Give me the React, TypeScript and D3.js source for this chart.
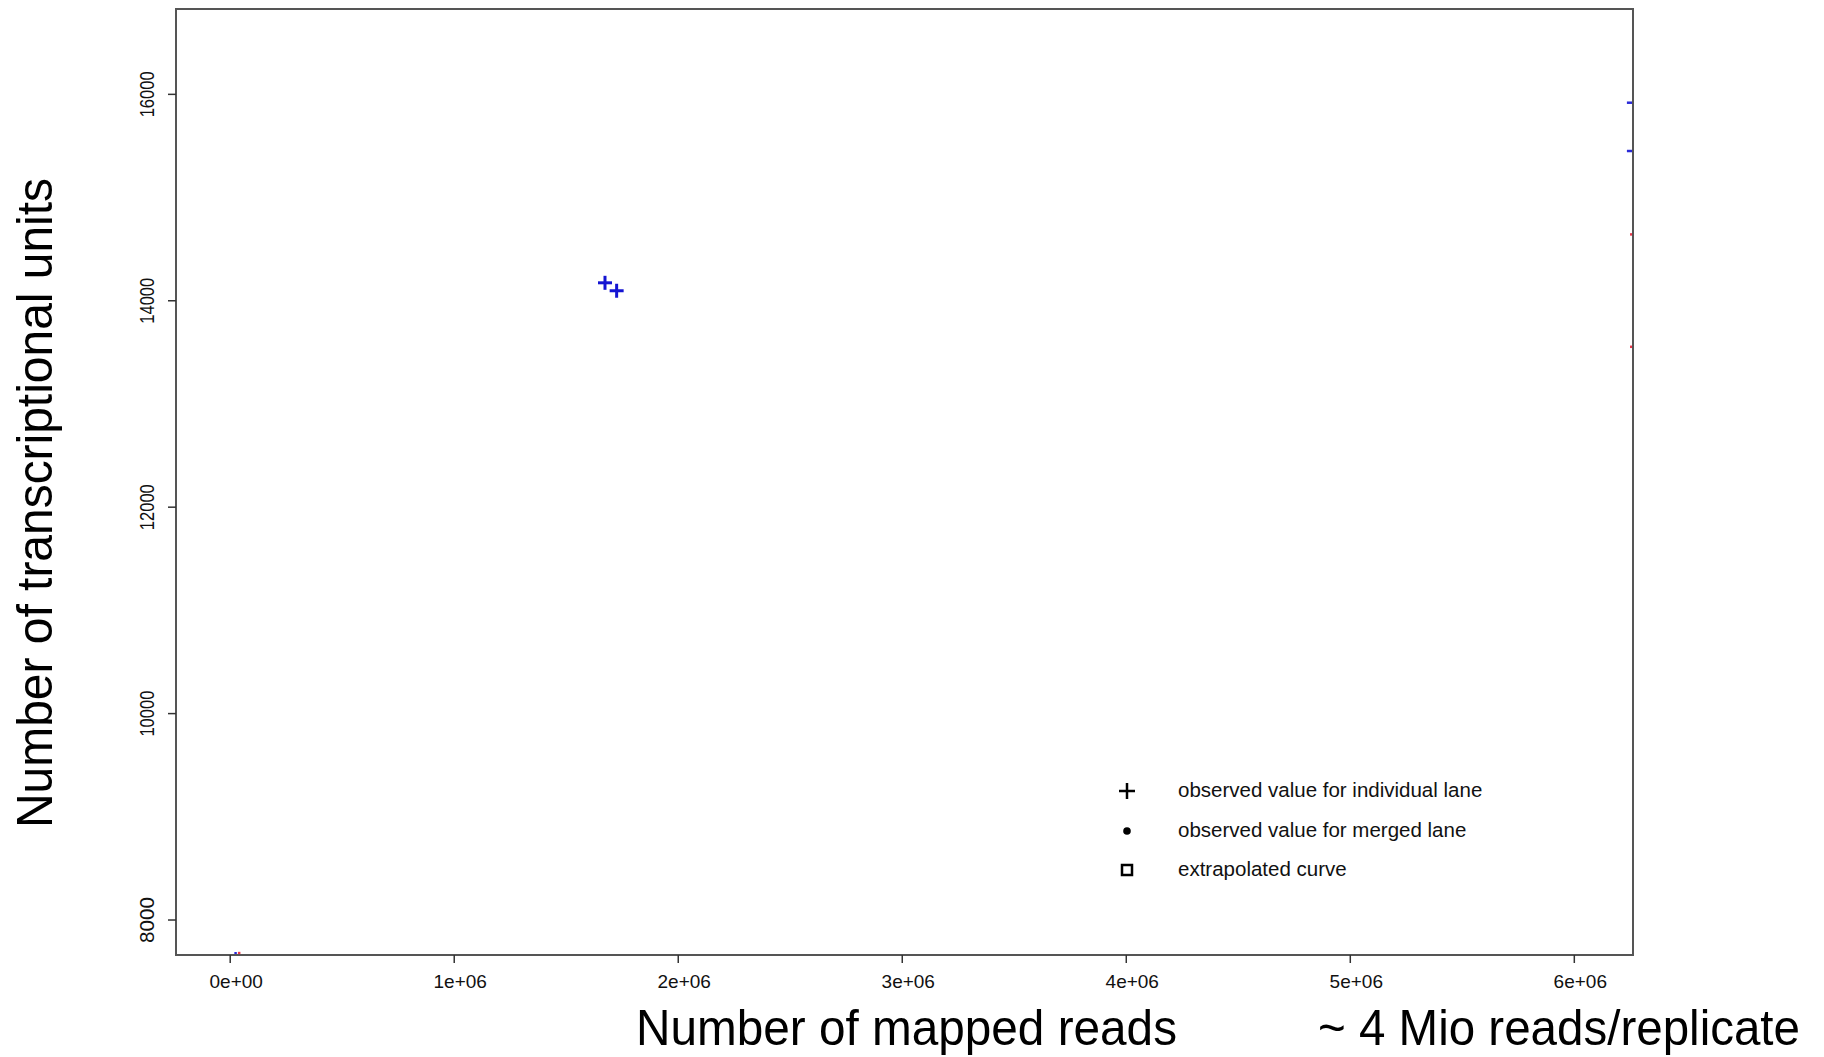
import React from 'react';
import * as d3 from 'd3';

// tick values
const xTicks = [0, 1e6, 2e6, 3e6, 4e6, 5e6, 6e6];
const xTickLabels = ['0e+00', '1e+06', '2e+06', '3e+06', '4e+06', '5e+06', '6e+06'];
const yTicks = [8000, 10000, 12000, 14000, 16000];

// observed values for individual lanes (reads, units)
const laneReads = [1673000, 1725000];
const laneUnits = [14174, 14097];

// points sitting just outside the plot region (clipped, only an arm shows)
const edgeBlueReads = [6266000, 6266000, 24000];
const edgeBlueUnits = [15919, 15451, 7622];
const edgeRedReads = [6280000, 6280000, 40000];
const edgeRedUnits = [14643, 13554, 7624];

const legendItems = [
  'observed value for individual lane',
  'observed value for merged lane',
  'extrapolated curve',
];

const W = 1824;
const H = 1057;
const plot = { left: 176, top: 9, right: 1633, bottom: 955 };

const App = () => {
  const x = d3.scaleLinear().domain([-242000, 6262000]).range([plot.left, plot.right]);
  const y = d3.scaleLinear().domain([7661, 16827]).range([plot.bottom, plot.top]);

  const font = "'Liberation Sans', Arial, Helvetica, sans-serif";

  const plus = (cx: number, cy: number, s: number, color: string, w: number, key: string) => (
    <g key={key} stroke={color} strokeWidth={w}>
      <line x1={cx - s} x2={cx + s} y1={cy} y2={cy} />
      <line x1={cx} x2={cx} y1={cy - s} y2={cy + s} />
    </g>
  );

  const legendX = 1127;
  const legendY = [791, 831, 870];

  return (
    <svg
      width={W}
      height={H}
      style={{ position: 'absolute', left: 0, top: 0, background: '#fff' }}
      fontFamily={font}
    >
      <defs>
        <clipPath id="plotclip">
          <rect x={plot.left} y={plot.top} width={plot.right - plot.left} height={plot.bottom - plot.top} />
        </clipPath>
      </defs>
      <rect width={W} height={H} fill="#fff" />

      {/* data */}
      <g clipPath="url(#plotclip)">
        {laneReads.map((r, i) => plus(x(r), y(laneUnits[i]), 7, '#1414d2', 3, 'lane' + i))}
        {edgeBlueReads.map((r, i) => plus(x(r), y(edgeBlueUnits[i]), 7, '#2a2ad8', 2.5, 'eb' + i))}
        {edgeRedReads.map((r, i) => plus(x(r), y(edgeRedUnits[i]), 7, '#e8364a', 2.5, 'er' + i))}
      </g>

      {/* frame */}
      <rect
        x={plot.left}
        y={plot.top}
        width={plot.right - plot.left}
        height={plot.bottom - plot.top}
        fill="none"
        stroke="#555"
        strokeWidth={2}
      />

      {/* x axis */}
      {xTicks.map((t, i) => (
        <g key={'xt' + i}>
          <line x1={x(t)} x2={x(t)} y1={plot.bottom} y2={plot.bottom + 8} stroke="#333" strokeWidth={1.5} />
          <text x={x(t) + 6} y={988} fontSize={19} textAnchor="middle" fill="#111">
            {xTickLabels[i]}
          </text>
        </g>
      ))}

      {/* y axis */}
      {yTicks.map((t, i) => (
        <g key={'yt' + i}>
          <line x1={plot.left - 8} x2={plot.left} y1={y(t)} y2={y(t)} stroke="#333" strokeWidth={1.5} />
          <text
            transform={`translate(154,${y(t)}) rotate(-90)`}
            fontSize={21}
            textAnchor="middle"
            textLength={46}
            lengthAdjust="spacingAndGlyphs"
            fill="#111"
          >
            {t}
          </text>
        </g>
      ))}

      {/* axis titles */}
      <text
        transform="translate(52,503) rotate(-90)"
        fontSize={50}
        textAnchor="middle"
        textLength={650}
        lengthAdjust="spacingAndGlyphs"
        fill="#000"
      >
        Number of transcriptional units
      </text>
      <text x={636} y={1045} fontSize={50} textLength={541} lengthAdjust="spacingAndGlyphs" fill="#000">
        Number of mapped reads
      </text>
      <text x={1318} y={1045} fontSize={50} textLength={482} lengthAdjust="spacingAndGlyphs" fill="#000">
        ~ 4 Mio reads/replicate
      </text>

      {/* legend */}
      {plus(legendX, legendY[0], 8, '#000', 2.5, 'lg0')}
      <circle cx={legendX} cy={legendY[1]} r={3.8} fill="#000" />
      <rect x={legendX - 5} y={legendY[2] - 5} width={10} height={10} fill="none" stroke="#000" strokeWidth={2.5} />
      {legendItems.map((s, i) => (
        <text key={'lt' + i} x={1178} y={legendY[i] + 6} fontSize={20.5} fill="#111">
          {s}
        </text>
      ))}
    </svg>
  );
};

export default App;
